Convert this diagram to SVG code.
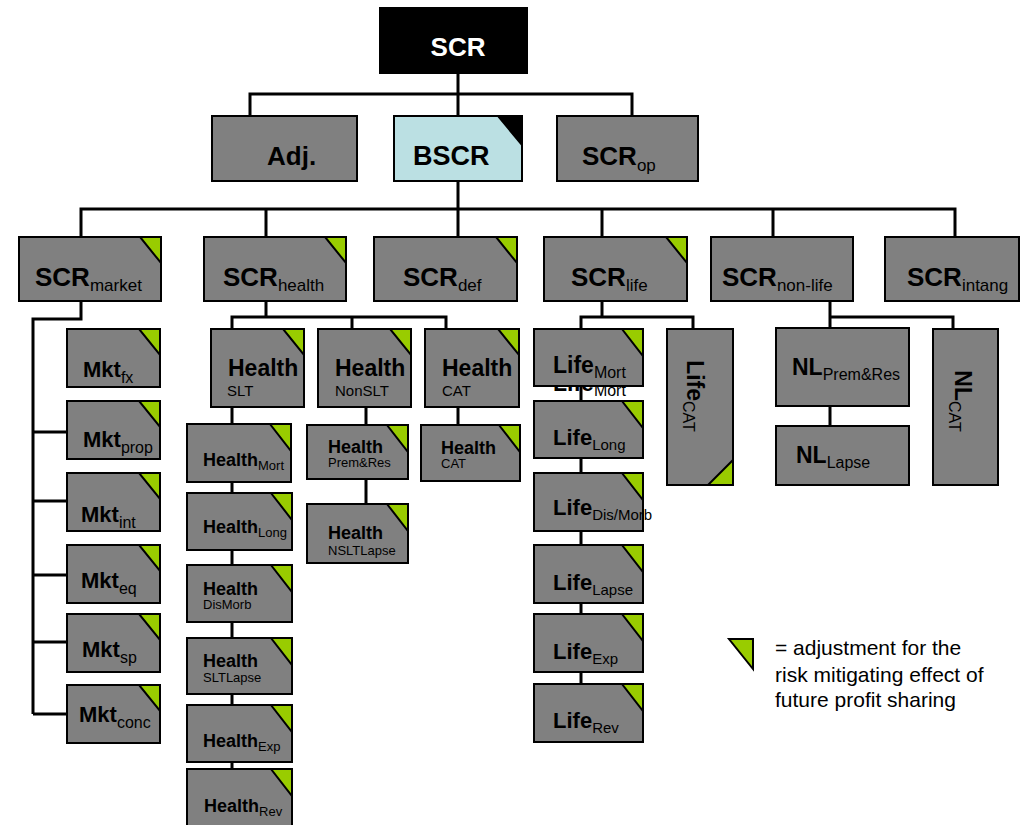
<svg xmlns="http://www.w3.org/2000/svg" width="1024" height="825" viewBox="0 0 1024 825">
<style>
.bx{fill:#808080;stroke:#000;stroke-width:2}
.tri{fill:#99cc00;stroke:#000;stroke-width:2;stroke-linejoin:miter}
.cn{fill:none;stroke:#000;stroke-width:3}
text{font-family:"Liberation Sans",Arial,Helvetica,sans-serif;fill:#000}
.b26{font-size:26px;font-weight:bold}
.b23{font-size:23px;font-weight:bold}
.b22{font-size:22px;font-weight:bold}
.b18{font-size:18px;font-weight:bold}
.s17{font-size:17px;font-weight:normal}
.s16{font-size:16px;font-weight:normal}
.s15{font-size:15px;font-weight:normal}
.s13{font-size:13px;font-weight:normal}
.leg{font-size:21px}
</style>
<rect width="1024" height="825" fill="#fff"/>
<g id="connectors">
<path class="cn" d="M458,74V116M250,116V94H632V116"/>
<path class="cn" d="M458,181V237M81,237V209H955V237M266,209V237M602,209V237M773,209V237"/>
<path class="cn" d="M81,301V319H33V714M33,432H67M33,501H67M33,575H67M33,642H67M33,714H67"/>
<path class="cn" d="M266,301V317M232,329V317H446V329M352,317V329M232,407V769M366,407V504M458,407V425"/>
<path class="cn" d="M602,301V317M581,329V317H693V329M581,386V684"/>
<path class="cn" d="M830,301V426M830,317H953V329"/>
</g>
<g id="scr"><rect x="379" y="7" width="149" height="67" fill="#000"/><text x="458" y="56" class="b26" text-anchor="middle" style="fill:#fff">SCR</text></g>
<g id="adj"><rect class="bx" x="212" y="116" width="145" height="65"/><text x="267" y="165" class="b26">Adj.</text></g>
<g id="bscr"><rect x="394" y="116" width="128" height="65" fill="#bbe0e3" stroke="#000" stroke-width="2"/><polygon points="498,116 522,116 522,145" fill="#000" stroke="#000" stroke-width="2"/><text x="413" y="165" class="b26" style="font-size:27px">BSCR</text></g>
<g id="scr_op"><rect class="bx" x="557" y="116" width="141" height="65"/><text x="582" y="165" class="b26">SCR<tspan class="s17" dy="6">op</tspan></text></g>

<g id="scr_market"><rect class="bx" x="19" y="237" width="142" height="64"/><polygon class="tri" points="140,237 161,237 161,263"/><text x="35" y="286" class="b26">SCR<tspan class="s17" dy="5">market</tspan></text></g>
<g id="scr_health"><rect class="bx" x="204" y="237" width="142" height="64"/><polygon class="tri" points="325,237 346,237 346,263"/><text x="223" y="286" class="b26">SCR<tspan class="s17" dy="5">health</tspan></text></g>
<g id="scr_def"><rect class="bx" x="374" y="237" width="143" height="64"/><polygon class="tri" points="496,237 517,237 517,263"/><text x="403" y="286" class="b26">SCR<tspan class="s17" dy="5">def</tspan></text></g>
<g id="scr_life"><rect class="bx" x="544" y="237" width="143" height="64"/><polygon class="tri" points="666,237 687,237 687,263"/><text x="571" y="286" class="b26">SCR<tspan class="s17" dy="5">life</tspan></text></g>
<g id="scr_nonlife"><rect class="bx" x="711" y="237" width="142" height="64"/><text x="722" y="286" class="b26">SCR<tspan class="s17" dy="5">non-life</tspan></text></g>
<g id="scr_intang"><rect class="bx" x="885" y="237" width="134" height="64"/><text x="907" y="286" class="b26">SCR<tspan class="s17" dy="5">intang</tspan></text></g>

<g id="mkt_fx"><rect class="bx" x="67" y="329" width="93" height="58"/><polygon class="tri" points="139,329 160,329 160,355"/><text x="83" y="377" class="b22">Mkt<tspan class="s16" dy="6">fx</tspan></text></g>
<g id="mkt_prop"><rect class="bx" x="67" y="401" width="93" height="58"/><polygon class="tri" points="139,401 160,401 160,427"/><text x="83" y="447" class="b22">Mkt<tspan class="s16" dy="6">prop</tspan></text></g>
<g id="mkt_int"><rect class="bx" x="67" y="473" width="93" height="58"/><polygon class="tri" points="139,473 160,473 160,499"/><text x="81" y="522" class="b22">Mkt<tspan class="s16" dy="6">int</tspan></text></g>
<g id="mkt_eq"><rect class="bx" x="67" y="545" width="93" height="58"/><polygon class="tri" points="139,545 160,545 160,571"/><text x="81" y="588" class="b22">Mkt<tspan class="s16" dy="6">eq</tspan></text></g>
<g id="mkt_sp"><rect class="bx" x="67" y="614" width="93" height="58"/><polygon class="tri" points="139,614 160,614 160,640"/><text x="82" y="657" class="b22">Mkt<tspan class="s16" dy="6">sp</tspan></text></g>
<g id="mkt_conc"><rect class="bx" x="67" y="685" width="93" height="58"/><polygon class="tri" points="139,685 160,685 160,711"/><text x="79" y="722" class="b22">Mkt<tspan class="s16" dy="6">conc</tspan></text></g>

<g id="health_slt"><rect class="bx" x="211" y="329" width="93" height="78"/><polygon class="tri" points="283,329 304,329 304,355"/><text x="228" y="376" class="b23">Health</text><text x="227" y="396" class="s15">SLT</text></g>
<g id="health_nonslt"><rect class="bx" x="318" y="329" width="93" height="78"/><polygon class="tri" points="390,329 411,329 411,355"/><text x="335" y="376" class="b23">Health</text><text x="335" y="396" class="s15">NonSLT</text></g>
<g id="health_cat"><rect class="bx" x="425" y="329" width="94" height="78"/><polygon class="tri" points="498,329 519,329 519,355"/><text x="442" y="376" class="b23">Health</text><text x="442" y="396" class="s15">CAT</text></g>

<g id="health_mort"><rect class="bx" x="187" y="424" width="104" height="58"/><polygon class="tri" points="270,424 291,424 291,451"/><text x="203" y="466" class="b18">Health<tspan class="s13" dy="4">Mort</tspan></text></g>
<g id="health_long"><rect class="bx" x="187" y="493" width="105" height="57"/><polygon class="tri" points="271,493 292,493 292,520"/><text x="203" y="533" class="b18">Health<tspan class="s13" dy="4">Long</tspan></text></g>
<g id="health_dismorb"><rect class="bx" x="187" y="565" width="105" height="57"/><polygon class="tri" points="271,565 292,565 292,592"/><text x="203" y="595" class="b18">Health</text><text x="203" y="609" class="s13">DisMorb</text></g>
<g id="health_sltlapse"><rect class="bx" x="187" y="638" width="105" height="56"/><polygon class="tri" points="271,638 292,638 292,665"/><text x="203" y="667" class="b18">Health</text><text x="203" y="682" class="s13">SLTLapse</text></g>
<g id="health_exp"><rect class="bx" x="187" y="705" width="105" height="57"/><polygon class="tri" points="271,705 292,705 292,732"/><text x="203" y="747" class="b18">Health<tspan class="s13" dy="4">Exp</tspan></text></g>
<g id="health_rev"><rect class="bx" x="187" y="769" width="105" height="57"/><polygon class="tri" points="271,769 292,769 292,796"/><text x="204" y="812" class="b18">Health<tspan class="s13" dy="4">Rev</tspan></text></g>

<g id="health_premres"><rect class="bx" x="307" y="425" width="101" height="54"/><polygon class="tri" points="387,425 408,425 408,452"/><text x="328" y="453" class="b18">Health</text><text x="328" y="467" class="s13">Prem&amp;Res</text></g>
<g id="health_nsltlapse"><rect class="bx" x="307" y="504" width="101" height="59"/><polygon class="tri" points="387,504 408,504 408,531"/><text x="328" y="539" class="b18">Health</text><text x="328" y="555" class="s13">NSLTLapse</text></g>
<g id="health_cat2"><rect class="bx" x="421" y="425" width="99" height="56"/><polygon class="tri" points="499,425 520,425 520,452"/><text x="441" y="454" class="b18">Health</text><text x="441" y="468" class="s13">CAT</text></g>

<g id="life_mort"><text x="553" y="391" class="b23">Life<tspan class="s16" dy="5">Mort</tspan></text><rect class="bx" x="534" y="329" width="109" height="57"/><polygon class="tri" points="622,329 643,329 643,356"/><text x="553" y="373" class="b23">Life<tspan class="s16" dy="5">Mort</tspan></text></g>
<g id="life_long"><rect class="bx" x="534" y="401" width="109" height="57"/><polygon class="tri" points="622,401 643,401 643,428"/><text x="553" y="445" class="b22">Life<tspan class="s15" dy="5">Long</tspan></text></g>
<g id="life_dismorb"><rect class="bx" x="534" y="473" width="109" height="58"/><polygon class="tri" points="622,473 643,473 643,500"/><text x="553" y="515" class="b22">Life<tspan class="s15" dy="5">Dis/Morb</tspan></text></g>
<g id="life_lapse"><rect class="bx" x="534" y="545" width="109" height="58"/><polygon class="tri" points="622,545 643,545 643,572"/><text x="553" y="590" class="b22">Life<tspan class="s15" dy="5">Lapse</tspan></text></g>
<g id="life_exp"><rect class="bx" x="534" y="614" width="109" height="58"/><polygon class="tri" points="622,614 643,614 643,641"/><text x="553" y="659" class="b22">Life<tspan class="s15" dy="5">Exp</tspan></text></g>
<g id="life_rev"><rect class="bx" x="534" y="684" width="109" height="58"/><polygon class="tri" points="622,684 643,684 643,711"/><text x="553" y="728" class="b22">Life<tspan class="s15" dy="5">Rev</tspan></text></g>
<g id="life_cat"><rect class="bx" x="667" y="329" width="66" height="156"/><polygon class="tri" points="708,485 733,485 733,460"/><text transform="translate(687,396) rotate(90)" text-anchor="middle" class="b23">Life<tspan class="s16" dy="4">CAT</tspan></text></g>

<g id="nl_premres"><rect class="bx" x="776" y="328" width="133" height="78"/><text x="792" y="375" class="b23">NL<tspan class="s16" dy="5">Prem&amp;Res</tspan></text></g>
<g id="nl_lapse"><rect class="bx" x="776" y="426" width="133" height="59"/><text x="796" y="463" class="b23">NL<tspan class="s16" dy="5">Lapse</tspan></text></g>
<g id="nl_cat"><rect class="bx" x="933" y="329" width="65" height="156"/><text transform="translate(955,401) rotate(90)" text-anchor="middle" class="b23">NL<tspan class="s16" dy="6">CAT</tspan></text></g>

<g id="legend"><polygon class="tri" points="729,639 753,639 753,669"/><text x="775" y="655" class="leg">= adjustment for the</text><text x="775" y="682" class="leg">risk mitigating effect of</text><text x="775" y="707" class="leg">future profit sharing</text></g>
</svg>
